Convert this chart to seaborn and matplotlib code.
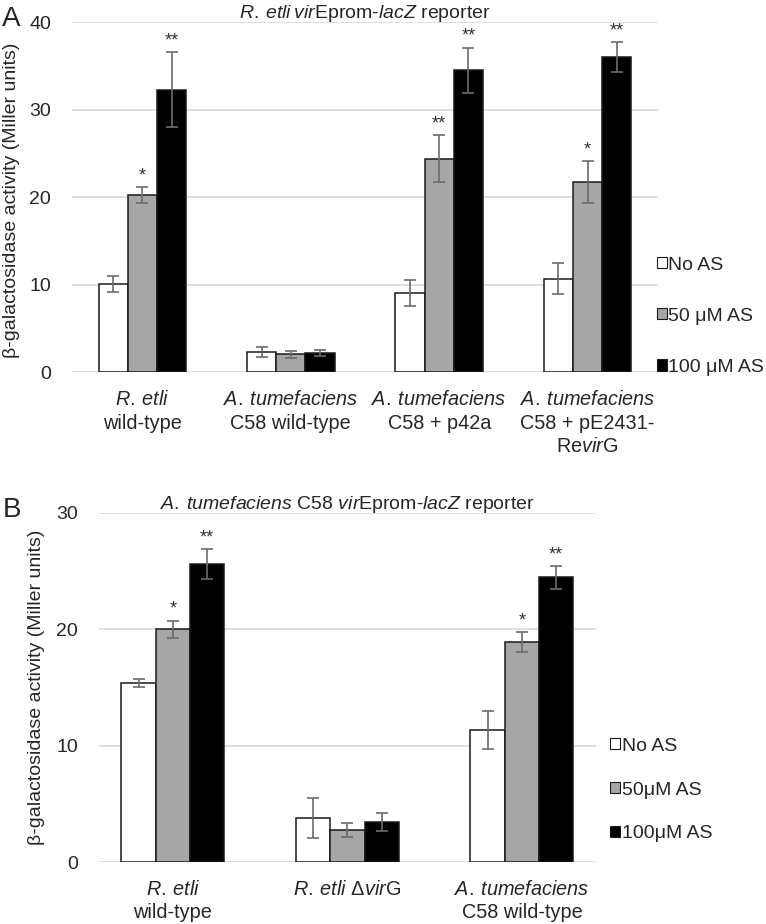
import matplotlib
matplotlib.use("Agg")
import matplotlib.pyplot as plt
from matplotlib.patches import Patch
import pandas as pd
import seaborn as sns

# Panel A: R. etli virEprom-lacZ reporter
groups_a = ["R. etli wt", "At C58 wt", "At C58 + p42a", "At C58 + pE2431-RevirG"]
ticks_a = [
    "$\\mathit{R.\\:etli}$\nwild-type",
    "$\\mathit{A.\\:tumefaciens}$\nC58 wild-type",
    "$\\mathit{A.\\:tumefaciens}$\nC58 + p42a",
    "$\\mathit{A.\\:tumefaciens}$\nC58 + pE2431-\nRe$\\mathit{vir}$G",
]
levels_a = ["No AS", "50 μM AS", "100 μM AS"]
mean_a = {
    "No AS": [10.1, 2.35, 9.1, 10.7],
    "50 μM AS": [20.3, 2.05, 24.4, 21.7],
    "100 μM AS": [32.3, 2.2, 34.5, 36.0],
}
err_a = {
    "No AS": [0.9, 0.6, 1.5, 1.75],
    "50 μM AS": [0.9, 0.4, 2.7, 2.4],
    "100 μM AS": [4.3, 0.3, 2.6, 1.7],
}
stars_a = {
    "No AS": ["", "", "", ""],
    "50 μM AS": ["*", "", "**", "*"],
    "100 μM AS": ["**", "", "**", "**"],
}

# Panel B: A. tumefaciens C58 virEprom-lacZ reporter
groups_b = ["R. etli wt", "R. etli dvirG", "At C58 wt"]
ticks_b = [
    "$\\mathit{R.\\:etli}$\nwild-type",
    "$\\mathit{R.\\:etli}$ Δ$\\mathit{vir}$G",
    "$\\mathit{A.\\:tumefaciens}$\nC58 wild-type",
]
levels_b = ["No AS", "50μM AS", "100μM AS"]
mean_b = {
    "No AS": [15.4, 3.8, 11.35],
    "50μM AS": [20.0, 2.75, 18.9],
    "100μM AS": [25.6, 3.45, 24.45],
}
err_b = {
    "No AS": [0.35, 1.7, 1.65],
    "50μM AS": [0.75, 0.6, 0.85],
    "100μM AS": [1.3, 0.8, 1.0],
}
stars_b = {
    "No AS": ["", "", ""],
    "50μM AS": ["*", "", "*"],
    "100μM AS": ["**", "", "**"],
}

bar_colors = ["#ffffff", "#a6a6a6", "#000000"]

sns.set_theme(style="white")
plt.rcParams["font.family"] = ["Liberation Sans", "DejaVu Sans"]
plt.rcParams["mathtext.fontset"] = "custom"
plt.rcParams["mathtext.rm"] = "Liberation Sans"
plt.rcParams["mathtext.it"] = "Liberation Sans:italic"


def draw_panel(ax, groups, ticks, levels, means, errs, stars, ymax, title,
               leg_x, leg_y, leg_space, ylab_size):
    rows = []
    for lev in levels:
        for g, m in zip(groups, means[lev]):
            rows.append({"group": g, "cond": lev, "value": m})
    df = pd.DataFrame(rows)
    sns.barplot(data=df, x="group", y="value", hue="cond", order=groups,
                hue_order=levels, palette=bar_colors, errorbar=None,
                width=0.59, edgecolor="#1a1a1a", linewidth=1.1,
                legend=False, ax=ax)
    for cont, lev in zip(ax.containers, levels):
        xs = [p.get_x() + p.get_width() / 2 for p in cont.patches]
        ys = [p.get_height() for p in cont.patches]
        ax.errorbar(xs, ys, yerr=errs[lev], fmt="none", ecolor="#6b6b6b",
                    elinewidth=1.2, capsize=4.5, capthick=1.2, zorder=5)
        for x, y, e, s in zip(xs, ys, errs[lev], stars[lev]):
            if s:
                ax.annotate(s, (x, y + e), xytext=(0, 8),
                            textcoords="offset points", ha="center",
                            va="center", fontsize=13, color="#333333")
    ax.set_ylim(0, ymax)
    ax.set_yticks(range(0, ymax + 1, 10))
    ax.yaxis.grid(True, color="#d9d9d9", linewidth=1.2)
    ax.set_axisbelow(True)
    sns.despine(ax=ax, left=True, bottom=True)
    ax.set_xlabel("")
    ax.set_ylabel("β-galactosidase activity (Miller units)", fontsize=ylab_size)
    ax.set_xticks(range(len(groups)))
    ax.set_xticklabels(ticks, fontsize=14.3)
    for lbl in ax.get_xticklabels():
        lbl.set_linespacing(1.28)
    ax.tick_params(axis="y", labelsize=14, pad=15, length=0)
    ax.tick_params(axis="x", pad=13, length=0)
    ax.set_title(title, fontsize=14, pad=3)
    handles = [Patch(facecolor=c, edgecolor="#1a1a1a", linewidth=0.8)
               for c in bar_colors]
    ax.legend(handles, levels, loc="center left",
              bbox_to_anchor=(leg_x, leg_y), frameon=False, fontsize=14,
              handlelength=0.5, handleheight=0.5, handletextpad=0.1,
              labelspacing=leg_space, borderpad=0, borderaxespad=0)


fig = plt.figure(figsize=(7.66, 9.24), dpi=100)
ax_a = fig.add_axes([0.094, 0.597, 0.765, 0.379])
ax_b = fig.add_axes([0.129, 0.067, 0.649, 0.378])

draw_panel(ax_a, groups_a, ticks_a, levels_a, mean_a, err_a, stars_a, 40,
           "$\\mathit{R.\\:etli\\:vir}$Eprom-$\\mathit{lacZ}$ reporter",
           0.998, 0.16, 1.75, 14.0)
draw_panel(ax_b, groups_b, ticks_b, levels_b, mean_b, err_b, stars_b, 30,
           "$\\mathit{A.\\:tumefaciens}$ C58 $\\mathit{vir}$Eprom-$\\mathit{lacZ}$ reporter",
           1.028, 0.206, 1.38, 14.0)

ax_a.yaxis.set_label_coords(-0.088, 0.49)
ax_b.yaxis.set_label_coords(-0.109, 0.5)

fig.text(0.002, 0.993, "A", fontsize=20, va="top", ha="left")
fig.text(0.004, 0.462, "B", fontsize=20, va="top", ha="left")

fig.savefig("out.png", dpi=100)
